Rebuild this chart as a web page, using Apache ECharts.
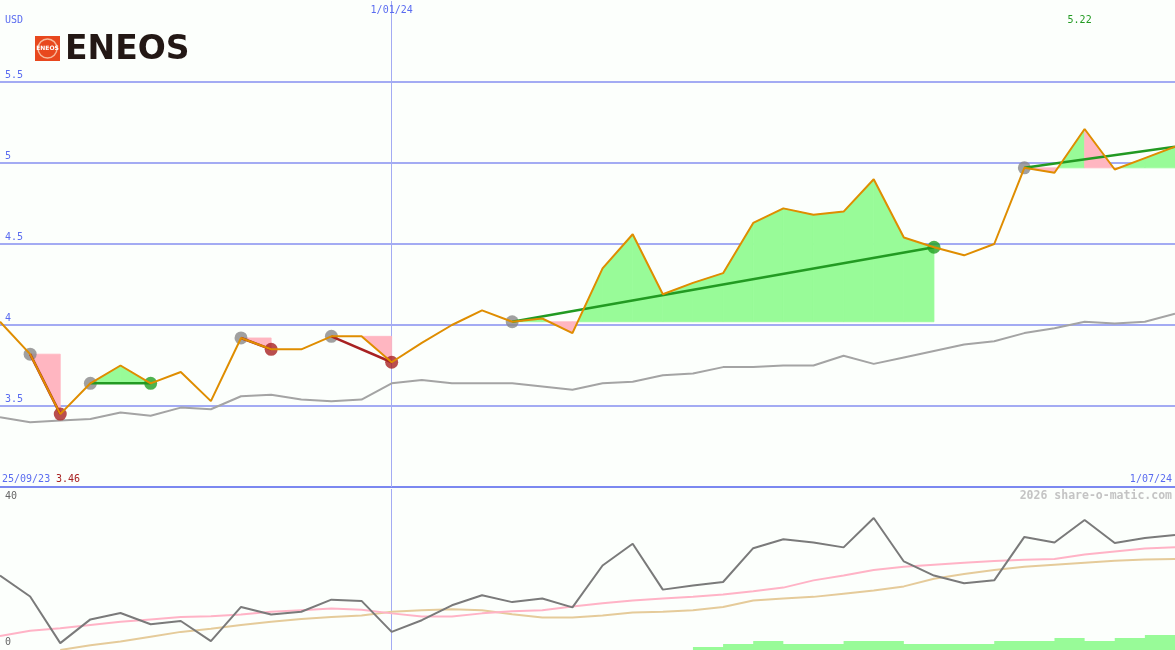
<!DOCTYPE html>
<html><head><meta charset="utf-8">
<script src="https://cdn.jsdelivr.net/npm/echarts@6/dist/echarts.min.js"></script>
<style>html,body{margin:0;padding:0;background:#fcfffc}#c{width:1175px;height:650px}</style>
</head><body><div id="c"></div><script>
// ---- data ----
const dates = ['2/10/23','9/10/23','16/10/23','23/10/23','30/10/23','6/11/23','13/11/23','20/11/23','27/11/23','4/12/23',
  '11/12/23','18/12/23','25/12/23','1/01/24','8/01/24','15/01/24','22/01/24','29/01/24','5/02/24','12/02/24',
  '19/02/24','26/02/24','4/03/24','11/03/24','18/03/24','25/03/24','1/04/24','8/04/24','15/04/24','22/04/24',
  '29/04/24','6/05/24','13/05/24','20/05/24','27/05/24','3/06/24','10/06/24','17/06/24','24/06/24','1/07/24'];
const price = [4.02,3.82,3.45,3.64,3.75,3.64,3.71,3.53,3.92,3.85,
  3.85,3.93,3.93,3.77,3.89,4.00,4.09,4.02,4.04,3.95,
  4.35,4.56,4.19,4.26,4.32,4.63,4.72,4.68,4.70,4.90,
  4.54,4.48,4.43,4.50,4.97,4.94,5.21,4.96,5.03,5.10];
const avgPrice = [3.43,3.40,3.41,3.42,3.46,3.44,3.49,3.48,3.56,3.57,
  3.54,3.53,3.54,3.64,3.66,3.64,3.64,3.64,3.62,3.60,
  3.64,3.65,3.69,3.70,3.74,3.74,3.75,3.75,3.81,3.76,
  3.80,3.84,3.88,3.90,3.95,3.98,4.02,4.01,4.02,4.07];
const oscLine = [18.5,13.3,1.7,7.6,9.2,6.4,7.2,2.2,10.7,8.8,
  9.5,12.5,12.2,4.5,7.4,11.1,13.6,11.9,12.8,10.6,
  21.0,26.4,15.0,16.0,16.9,25.3,27.5,26.7,25.5,32.8,
  22.0,18.5,16.6,17.3,28.1,26.7,32.3,26.6,27.8,28.6];
const oscPink = [3.5,4.8,5.4,6.2,7.0,7.6,8.2,8.4,8.8,9.5,
  9.9,10.3,10.0,9.1,8.3,8.3,9.1,9.6,9.9,10.8,
  11.6,12.3,12.8,13.2,13.8,14.6,15.5,17.3,18.5,19.9,
  20.7,21.2,21.7,22.1,22.4,22.6,23.7,24.5,25.2,25.5];
const oscTan = [null,null,0.0,1.2,2.1,3.3,4.5,5.3,6.2,7.0,
  7.7,8.2,8.6,9.5,9.9,10.1,9.9,8.9,8.1,8.1,
  8.6,9.3,9.5,9.9,10.7,12.3,12.8,13.2,14.0,14.8,
  15.8,17.7,18.9,19.9,20.7,21.2,21.7,22.2,22.5,22.6];
const volBars = [null,null,null,null,null,null,null,null,null,null,
  null,null,null,null,null,null,null,null,null,null,
  null,null,null,0.74,1.48,2.22,1.48,1.48,2.22,2.22,
  1.48,1.48,1.48,2.22,2.22,2.96,2.22,2.96,3.7,3.7];
const signalStart = [1,3,8,11,17,34];
const signalEnd = [2,5,9,13,31,39];
const forcedPinkSegments = [36];
const markedDate = '1/01/24';
const startLabel = '25/09/23', endLabel = '1/07/24';
const minLabel = '3.46', maxLabel = '5.22';
const currency = 'USD';
const oscTicks = ['40', '0'];

// ---- derived series ----
const GREEN_FILL = '#98fb98', PINK_FILL = '#ffb6c1';
const fillData = [];
signalStart.forEach((s, k) => {
  const e = signalEnd[k], base = price[s];
  for (let i = s; i < e; i++) fillData.push([i, price[i], price[i + 1], base, forcedPinkSegments.includes(i) ? 1 : 0]);
});
const trendSeries = signalStart.map((s, k) => {
  const e = signalEnd[k];
  const up = price[e] >= price[s];
  return {type: 'line', xAxisIndex: 0, yAxisIndex: 0, data: [[s, price[s]], [e, price[e]]],
    symbol: 'none', lineStyle: {color: up ? '#229a22' : '#a82222', width: 2.5}, z: 4, silent: true};
});
const startDots = signalStart.map(s => [s, price[s]]);
const endDotsUp = [], endDotsDown = [];
signalStart.forEach((s, k) => {
  const e = signalEnd[k];
  if (e === price.length - 1) return; // open signal
  (price[e] >= price[s] ? endDotsUp : endDotsDown).push([e, price[e]]);
});

const mono = '"DejaVu Sans Mono", monospace';
const blue = '#5a6cf0';
const gridLineColor = '#a3abf3';

const chart = echarts.init(document.getElementById('c'), null, {renderer: 'canvas'});
const option = {
  animation: false,
  backgroundColor: '#fcfffc',
  grid: [
    {left: 0, right: 0, top: 1, height: 486, containLabel: false},
    {left: 0, right: 0, top: 489, height: 161, containLabel: false}
  ],
  xAxis: [
    {type: 'category', gridIndex: 0, data: dates, boundaryGap: false, position: 'top',
      axisLine: {show: false}, axisTick: {show: false},
      axisLabel: {inside: true, margin: 4, color: blue, fontFamily: mono, fontSize: 10,
        interval: (idx, val) => val === markedDate},
      splitLine: {show: true, interval: (idx, val) => val === markedDate, lineStyle: {color: gridLineColor, width: 1}}},
    {type: 'category', gridIndex: 1, data: dates, boundaryGap: false,
      axisLine: {show: false}, axisTick: {show: false}, axisLabel: {show: false},
      splitLine: {show: true, interval: (idx, val) => val === markedDate, lineStyle: {color: gridLineColor, width: 1}}}
  ],
  yAxis: [
    {type: 'value', gridIndex: 0, min: 3, max: 6, interval: 0.5,
      axisLine: {show: false}, axisTick: {show: false},
      axisLabel: {inside: true, margin: 5, color: blue, fontFamily: mono, fontSize: 10,
        verticalAlign: 'bottom', padding: [0, 0, 2, 0], showMinLabel: false, showMaxLabel: false},
      splitLine: {show: true, lineStyle: {width: 2,
        color: ['#7b88f0', gridLineColor, gridLineColor, gridLineColor, gridLineColor, gridLineColor, 'rgba(0,0,0,0)']}}},
    {type: 'value', gridIndex: 1, min: 0, max: 40, interval: 40,
      axisLine: {show: false}, axisTick: {show: false}, axisLabel: {show: false}, splitLine: {show: false}}
  ],
  series: [
    {type: 'custom', xAxisIndex: 0, yAxisIndex: 0, data: fillData, z: 1, silent: true,
      dimensions: ['i', 'v0', 'v1', 'base', 'force'], encode: {x: 0, y: 1},
      renderItem: function (params, api) {
        const i = api.value(0), v0 = api.value(1), v1 = api.value(2), b = api.value(3), force = api.value(4);
        const p0 = api.coord([i, v0]), p1 = api.coord([i + 1, v1]);
        const b0 = api.coord([i, b]), b1 = api.coord([i + 1, b]);
        const by = b0[1];
        const d0 = p0[1] - by, d1 = p1[1] - by; // negative = above base
        const children = [];
        const poly = (pts, col) => children.push({type: 'polygon', shape: {points: pts},
          style: {fill: col, stroke: col, lineWidth: 0.8}});
        if (force) {
          poly([b0, p0, p1, b1], PINK_FILL);
        } else if (d0 * d1 < 0) {
          const t = d0 / (d0 - d1);
          const xc = p0[0] + t * (p1[0] - p0[0]);
          poly([b0, p0, [xc, by]], d0 < 0 ? GREEN_FILL : PINK_FILL);
          poly([[xc, by], p1, b1], d1 < 0 ? GREEN_FILL : PINK_FILL);
        } else if (d0 + d1 !== 0) {
          poly([b0, p0, p1, b1], (d0 + d1) < 0 ? GREEN_FILL : PINK_FILL);
        }
        return {type: 'group', children: children};
      }},
    {type: 'line', xAxisIndex: 0, yAxisIndex: 0, data: avgPrice, symbol: 'none', z: 2, silent: true,
      lineStyle: {color: '#a4a4a4', width: 2}},
    {type: 'scatter', xAxisIndex: 0, yAxisIndex: 0, data: startDots, symbolSize: 13, z: 3, silent: true,
      itemStyle: {color: '#888888'}},
    {type: 'scatter', xAxisIndex: 0, yAxisIndex: 0, data: endDotsDown, symbolSize: 13, z: 3, silent: true,
      itemStyle: {color: '#a82222'}},
    {type: 'scatter', xAxisIndex: 0, yAxisIndex: 0, data: endDotsUp, symbolSize: 13, z: 3, silent: true,
      itemStyle: {color: '#22a022'}},
    ...trendSeries,
    {type: 'line', xAxisIndex: 0, yAxisIndex: 0, data: price, symbol: 'none', z: 5, silent: true,
      lineStyle: {color: '#df8d00', width: 2}},
    // lower panel
    {type: 'line', xAxisIndex: 1, yAxisIndex: 1, data: volBars, step: 'end', symbol: 'none', z: 1, silent: true,
      lineStyle: {width: 0}, areaStyle: {color: GREEN_FILL, opacity: 1}},
    {type: 'line', xAxisIndex: 1, yAxisIndex: 1, data: oscTan, symbol: 'none', z: 2, silent: true,
      lineStyle: {color: '#e5cb9a', width: 2}},
    {type: 'line', xAxisIndex: 1, yAxisIndex: 1, data: oscPink, symbol: 'none', z: 3, silent: true,
      lineStyle: {color: '#ffb3c6', width: 2}},
    {type: 'line', xAxisIndex: 1, yAxisIndex: 1, data: oscLine, symbol: 'none', z: 4, silent: true,
      lineStyle: {color: '#7a7a7a', width: 2}}
  ]
};
chart.setOption(option);

// annotations
const maxIdx = price.indexOf(Math.max(...price));
const maxX = chart.convertToPixel({xAxisIndex: 0}, maxIdx);
const t = (x, y, text, color, extra) => Object.assign({type: 'text', x: x, y: y, silent: true,
  style: Object.assign({text: text, fill: color, font: '10px ' + mono, verticalAlign: 'middle'}, extra || {})});
chart.setOption({graphic: [
  t(5, 20, currency, blue),
  t(maxX - 5, 20, maxLabel, '#229a22', {align: 'center'}),
  t(2, 479, startLabel, blue),
  t(56, 479, minLabel, '#a82222'),
  t(1172, 479, endLabel, blue, {align: 'right'}),
  t(1172, 496, '2026 share-o-matic.com', '#c4c4c4', {align: 'right', font: 'bold 11.5px ' + mono}),
  t(5, 496, oscTicks[0], '#666666'),
  t(5, 642, oscTicks[1], '#666666'),
  // logo
  {type: 'rect', shape: {x: 35, y: 36, width: 25, height: 25}, style: {fill: '#e8481e'}, silent: true},
  {type: 'circle', shape: {cx: 47.5, cy: 48.5, r: 9.5}, style: {fill: 'none', stroke: '#f6b99a', lineWidth: 1.5}, silent: true},
  {type: 'text', x: 47.5, y: 48.5, silent: true, style: {text: 'ENEOS', fill: '#ffffff', font: 'bold 6px "DejaVu Sans"', align: 'center', verticalAlign: 'middle'}},
  {type: 'text', x: 65, y: 50, silent: true, style: {text: 'ENEOS', fill: '#231815', font: 'bold 33px "DejaVu Sans"', verticalAlign: 'middle'}}
]});
</script></body></html>
